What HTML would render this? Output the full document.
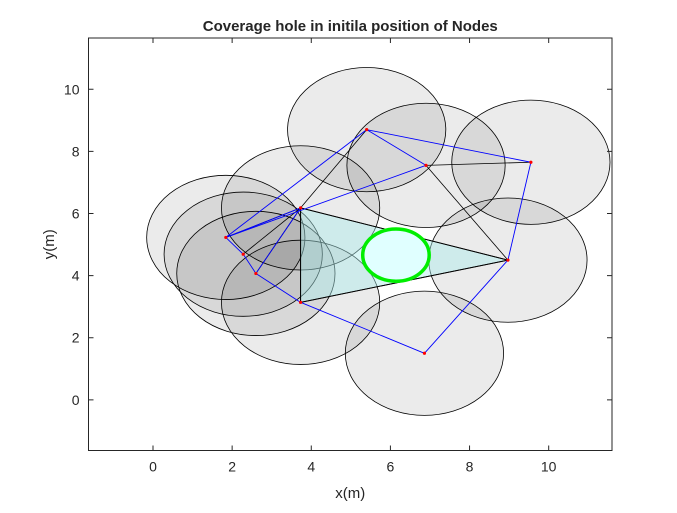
<!DOCTYPE html>
<html><head><meta charset="utf-8"><style>
body{margin:0;background:#fff;font-family:"Liberation Sans",sans-serif}
svg text{font-family:"Liberation Sans",sans-serif;fill:#262626}
</style></head><body>
<svg id="chart" width="677" height="508" xmlns="http://www.w3.org/2000/svg">
<rect width="677" height="508" fill="#fff"/>
<g id="plot"></g>
</svg>
<script>
const nodeNames=['A','B','C','D','E','F','G','H','I','J'];
const nodeX=[5.40,6.90,9.55,3.73,1.84,2.28,2.60,3.73,8.97,6.86];
const nodeY=[8.70,7.55,7.65,6.18,5.23,4.69,4.07,3.14,4.50,1.50];
const sensingRadius=2;
const blueEdges=[[0,1],[0,2],[2,8],[8,9],[9,7],[7,6],[6,5],[5,4],[4,0],[4,1],[4,3],[3,6]];
const blackEdges=[[0,3],[1,2],[1,8],[3,8],[7,8],[3,7],[3,5],[3,6],[3,4]];
const holeTriangle=[3,8,7];
const holeCenter=[6.14,4.66];
const holeRadius=0.84;
const xTicks=[0,2,4,6,8,10];
const yTicks=[0,2,4,6,8,10];
const xDomain=[-1.63,11.6], yDomain=[-1.63,11.65];
const L=88.5,R=612,T=38,B=450.5;
const sx=v=>L+(v-xDomain[0])/(xDomain[1]-xDomain[0])*(R-L);
const sy=v=>B-(v-yDomain[0])/(yDomain[1]-yDomain[0])*(B-T);
const ns='http://www.w3.org/2000/svg';
const g=document.getElementById('plot');
function mk(tag,attrs,parent){const e=document.createElementNS(ns,tag);for(const k in attrs)e.setAttribute(k,attrs[k]);(parent||g).appendChild(e);return e;}
const bg=mk('rect',{x:L,y:T,width:R-L,height:B-T,fill:'#fff'});


const rx=sensingRadius*(R-L)/(xDomain[1]-xDomain[0]);
const ry=sensingRadius*(B-T)/(yDomain[1]-yDomain[0]);
nodeX.forEach((x,i)=>{
 const c=mk('ellipse',{cx:sx(x),cy:sy(nodeY[i]),rx:rx,ry:ry,fill:'rgba(0,0,0,0.08)',stroke:'#000','stroke-width':0.8});
 
 
});
const tri=mk('polygon',{points:holeTriangle.map(i=>sx(nodeX[i])+','+sy(nodeY[i])).join(' '),fill:'rgba(170,235,235,0.45)',stroke:'#000','stroke-width':1});


blackEdges.forEach(([a,b])=>{
 const l=mk('line',{x1:sx(nodeX[a]),y1:sy(nodeY[a]),x2:sx(nodeX[b]),y2:sy(nodeY[b]),stroke:'#000','stroke-width':0.8});
 
 
});
blueEdges.forEach(([a,b])=>{
 const l=mk('line',{x1:sx(nodeX[a]),y1:sy(nodeY[a]),x2:sx(nodeX[b]),y2:sy(nodeY[b]),stroke:'#0000ff','stroke-width':0.9});
 
 
});
const hrx=holeRadius*(R-L)/(xDomain[1]-xDomain[0]), hry=holeRadius*(B-T)/(yDomain[1]-yDomain[0]);
const hole=mk('ellipse',{cx:sx(holeCenter[0]),cy:sy(holeCenter[1]),rx:hrx,ry:hry,fill:'#e0ffff',stroke:'#00ee00','stroke-width':3.5});


nodeX.forEach((x,i)=>{
 const p=mk('circle',{cx:sx(x),cy:sy(nodeY[i]),r:1.6,fill:'#ff0000'});
 
 
});
const box=mk('rect',{x:L,y:T,width:R-L,height:B-T,fill:'none',stroke:'#262626','stroke-width':1});


xTicks.forEach(v=>{
 const x=sx(v);
 mk('line',{x1:x,y1:B,x2:x,y2:B-5,stroke:'#262626'});
 mk('line',{x1:x,y1:T,x2:x,y2:T+5,stroke:'#262626'});
 const t=mk('text',{x:x,y:B+21,'font-size':14,'text-anchor':'middle'});t.textContent=v;
 
 
});
yTicks.forEach(v=>{
 const y=sy(v);
 mk('line',{x1:L,y1:y,x2:L+5,y2:y,stroke:'#262626'});
 mk('line',{x1:R,y1:y,x2:R-5,y2:y,stroke:'#262626'});
 const t=mk('text',{x:L-9,y:y+5,'font-size':14,'text-anchor':'end'});t.textContent=v;
 
 
});
const xt=mk('text',{x:(L+R)/2,y:498,'font-size':15,'text-anchor':'middle'});xt.textContent='x(m)';


const yt=mk('text',{x:0,y:0,'font-size':15,'text-anchor':'middle',transform:'translate(54,'+((T+B)/2)+') rotate(-90)'});yt.textContent='y(m)';


const tt=mk('text',{x:(L+R)/2,y:31,'font-size':15,'font-weight':'bold','text-anchor':'middle'});tt.textContent='Coverage hole in initila position of Nodes';


</script>
</body></html>
